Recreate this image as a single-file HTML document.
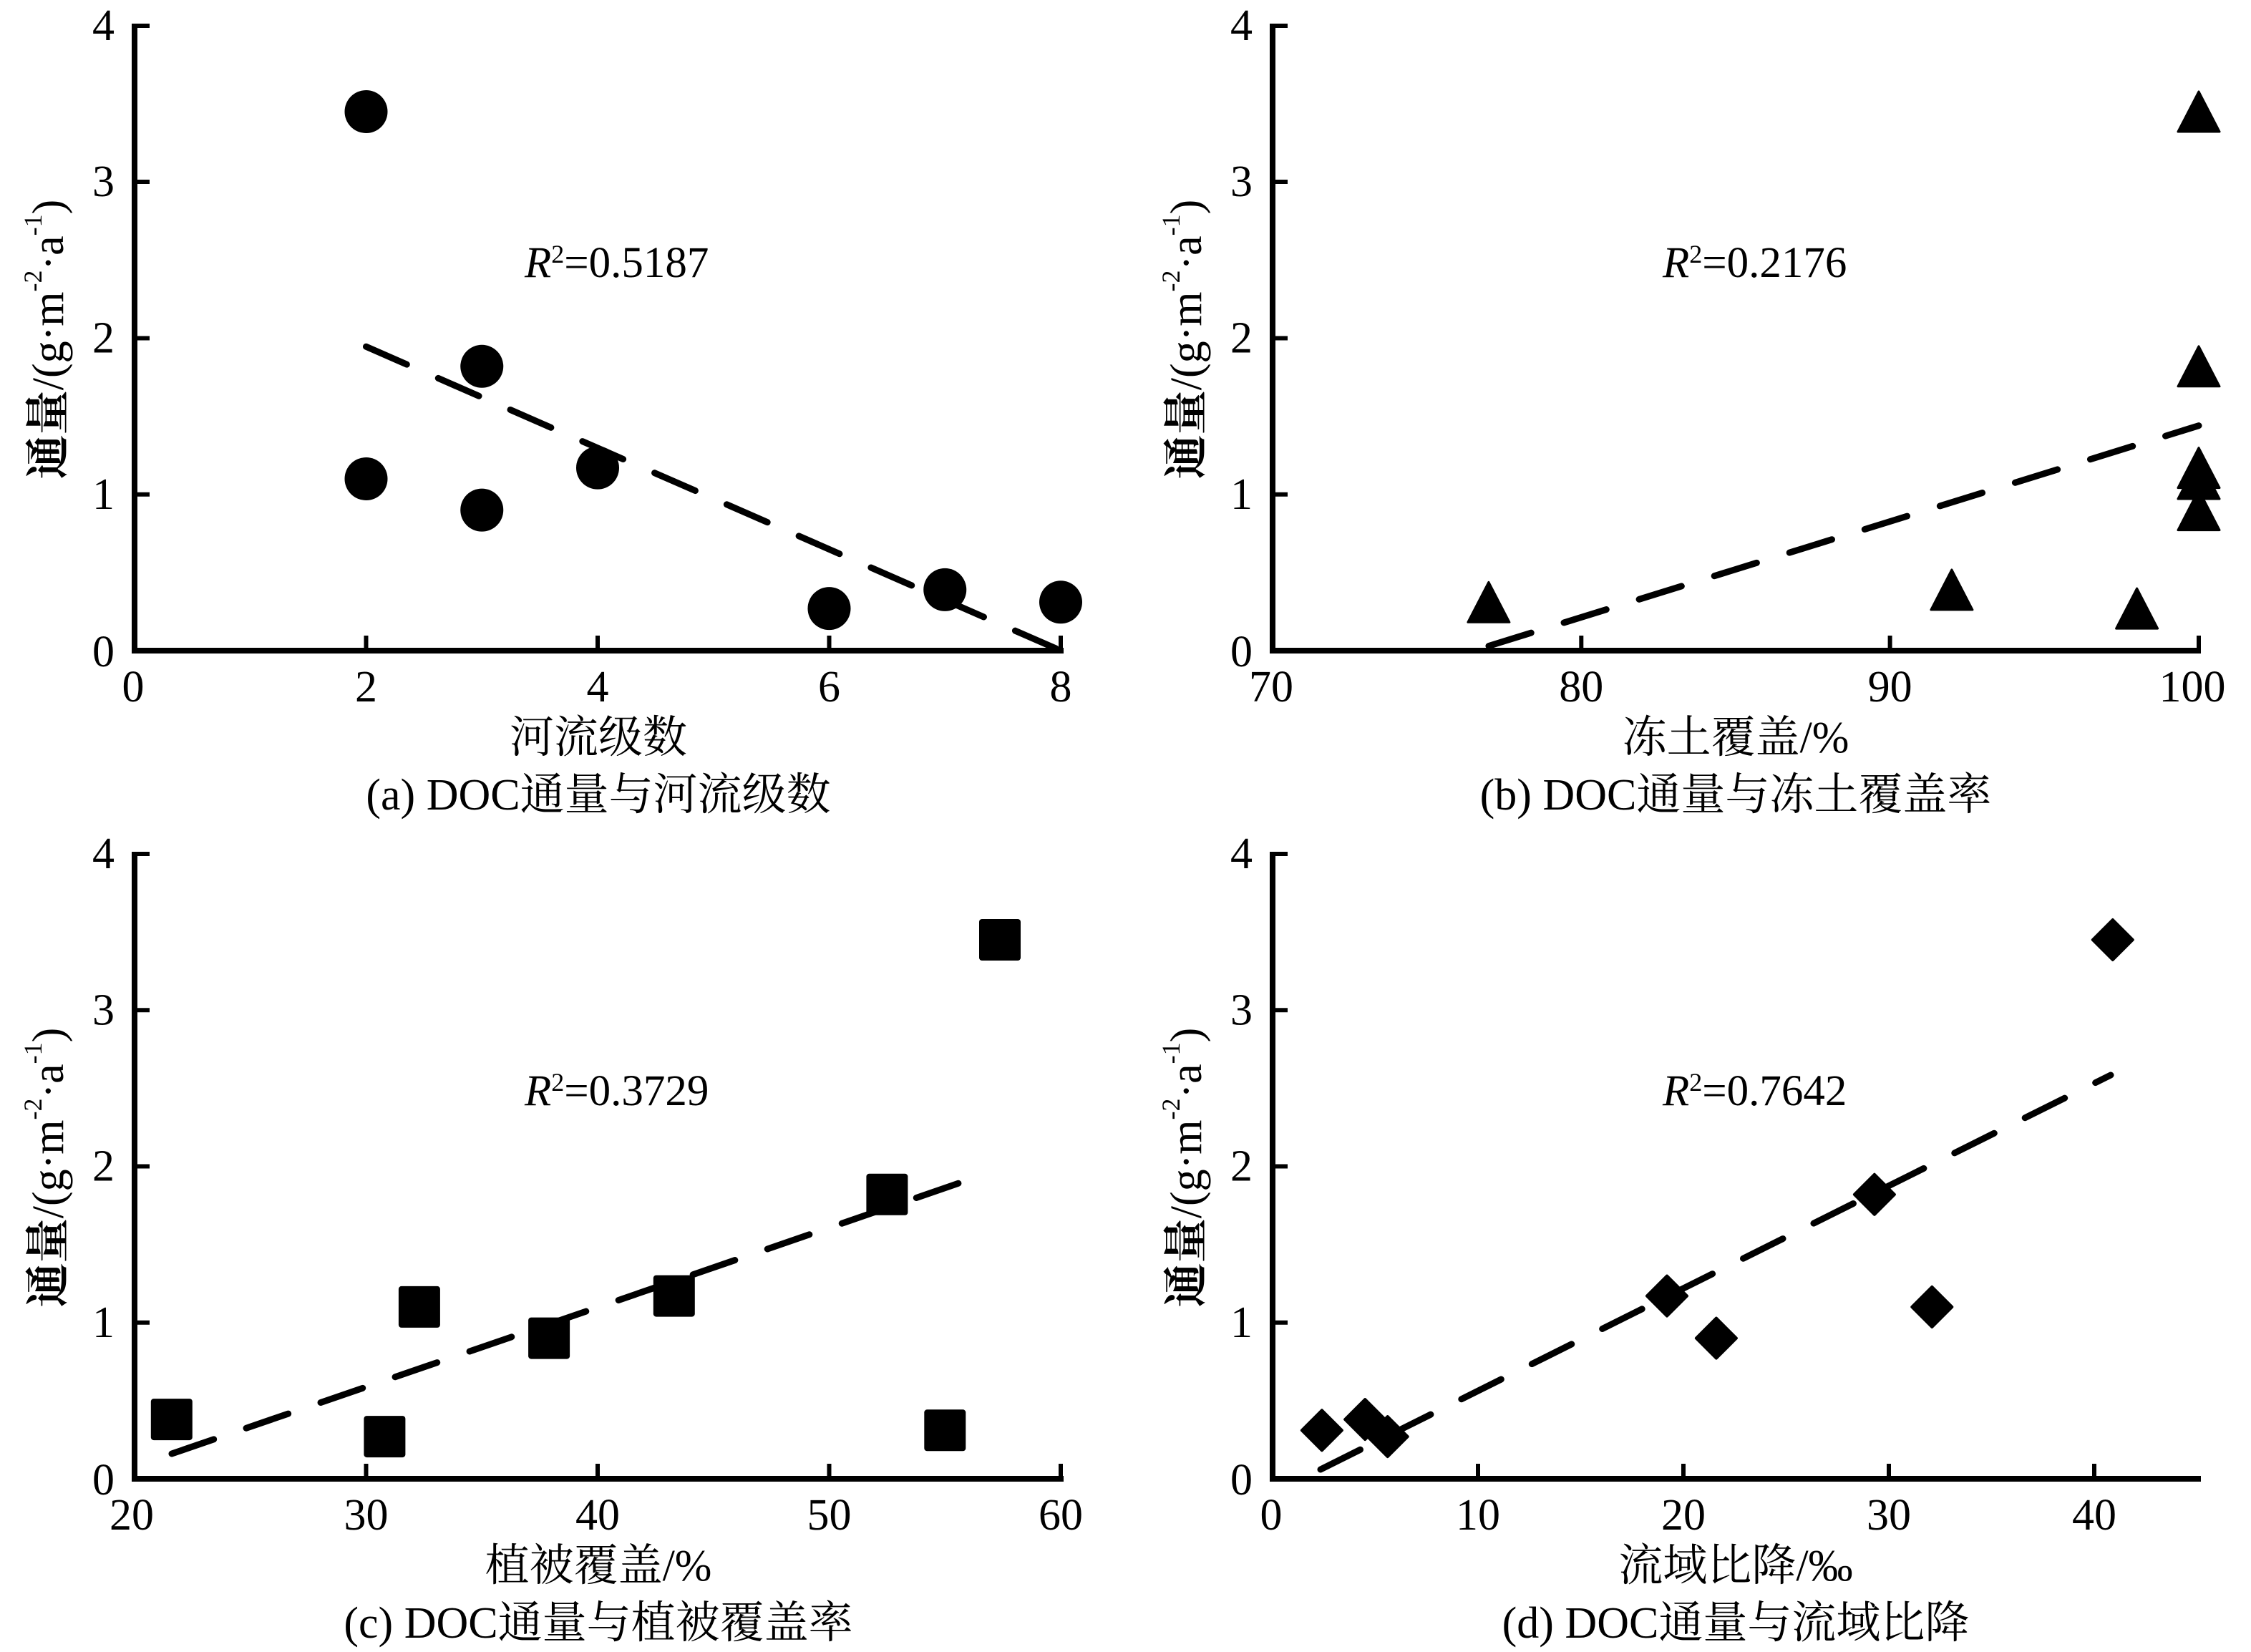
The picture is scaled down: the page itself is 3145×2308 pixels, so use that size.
<!DOCTYPE html>
<html>
<head>
<meta charset="utf-8">
<style>
  html,body{margin:0;padding:0;background:#fff;}
  svg{display:block;}
  .t{font-family:"Liberation Serif","Noto Serif CJK SC",serif;fill:#000;}
</style>
</head>
<body>
<svg width="3145" height="2308" viewBox="0 0 3145 2308" xmlns="http://www.w3.org/2000/svg">
<rect x="0" y="0" width="3145" height="2308" fill="#fff"/>

<!-- ================= PANEL A ================= -->
<g stroke="#000" fill="none" stroke-linecap="butt">
  <line x1="188" y1="33" x2="188" y2="913" stroke-width="8"/>
  <line x1="184" y1="909" x2="1486" y2="909" stroke-width="8"/>
  <g stroke-width="6">
    <line x1="188" y1="36" x2="209" y2="36"/>
    <line x1="188" y1="254" x2="209" y2="254"/>
    <line x1="188" y1="472.5" x2="209" y2="472.5"/>
    <line x1="188" y1="690.75" x2="209" y2="690.75"/>
    <line x1="511.5" y1="909" x2="511.5" y2="888"/>
    <line x1="835" y1="909" x2="835" y2="888"/>
    <line x1="1158.5" y1="909" x2="1158.5" y2="888"/>
    <line x1="1482" y1="909" x2="1482" y2="888"/>
  </g>
</g>
<g fill="#000">
  <circle cx="511.5" cy="156" r="30"/>
  <circle cx="511.5" cy="669" r="30"/>
  <circle cx="673.25" cy="511.8" r="30"/>
  <circle cx="673.25" cy="712.6" r="30"/>
  <circle cx="835" cy="653.6" r="30"/>
  <circle cx="1158.5" cy="850.1" r="30"/>
  <circle cx="1320.25" cy="823.9" r="30"/>
  <circle cx="1482" cy="841.3" r="30"/>
</g>
<line x1="511.5" y1="484.3" x2="1482" y2="909" stroke="#000" stroke-width="9" stroke-linecap="round" stroke-dasharray="62 48"/>
<g class="t" font-size="62" text-anchor="end">
  <text x="160" y="36" dominant-baseline="central">4</text>
  <text x="160" y="254" dominant-baseline="central">3</text>
  <text x="160" y="472.5" dominant-baseline="central">2</text>
  <text x="160" y="690.75" dominant-baseline="central">1</text>
  <text x="160" y="911" dominant-baseline="central">0</text>
</g>
<g class="t" font-size="62" text-anchor="middle">
  <text x="186" y="980">0</text>
  <text x="511.5" y="980">2</text>
  <text x="835" y="980">4</text>
  <text x="1158.5" y="980">6</text>
  <text x="1482" y="980">8</text>
</g>
<text class="t" x="733" y="387" font-size="61"><tspan font-style="italic">R</tspan><tspan font-size="36" dy="-20">2</tspan><tspan dy="20">=0.5187</tspan></text>
<text class="t" transform="translate(68,474) rotate(-90)" font-size="62" text-anchor="middle" dominant-baseline="central"><tspan font-weight="bold">通量</tspan>/(g·m<tspan font-size="36" dy="-22">-2</tspan><tspan dy="22">·a</tspan><tspan font-size="36" dy="-22">-1</tspan><tspan dy="22">)</tspan></text>
<text class="t" x="836" y="1031" font-size="62" text-anchor="middle" dominant-baseline="central">河流级数</text>
<text class="t" x="836" y="1111" font-size="62" text-anchor="middle" dominant-baseline="central">(a) DOC通量与河流级数</text>

<!-- ================= PANEL B ================= -->
<g stroke="#000" fill="none">
  <line x1="1778" y1="33" x2="1778" y2="913" stroke-width="8"/>
  <line x1="1774" y1="909" x2="3075" y2="909" stroke-width="8"/>
  <g stroke-width="6">
    <line x1="1778" y1="36" x2="1799" y2="36"/>
    <line x1="1778" y1="254" x2="1799" y2="254"/>
    <line x1="1778" y1="472.5" x2="1799" y2="472.5"/>
    <line x1="1778" y1="690.75" x2="1799" y2="690.75"/>
    <line x1="2209.3" y1="909" x2="2209.3" y2="888"/>
    <line x1="2640.6" y1="909" x2="2640.6" y2="888"/>
    <line x1="3072" y1="909" x2="3072" y2="888"/>
  </g>
</g>
<g fill="#000" stroke="#000" stroke-width="3" stroke-linejoin="round">
  <polygon points="3072,128 3101,184 3043,184"/>
  <polygon points="3072,483.8 3101,539.8 3043,539.8"/>
  <polygon points="3072,625.6 3101,681.6 3043,681.6"/>
  <polygon points="3072,641 3101,697 3043,697"/>
  <polygon points="3072,684.6 3101,740.6 3043,740.6"/>
  <polygon points="2079.9,813.3 2108.9,869.3 2050.9,869.3"/>
  <polygon points="2726.9,795.9 2755.9,851.9 2697.9,851.9"/>
  <polygon points="2985.6,822.1 3014.6,878.1 2956.6,878.1"/>
</g>
<line x1="2080" y1="902.5" x2="3072" y2="594.7" stroke="#000" stroke-width="9" stroke-linecap="round" stroke-dasharray="62 48"/>
<g class="t" font-size="62" text-anchor="end">
  <text x="1750" y="36" dominant-baseline="central">4</text>
  <text x="1750" y="254" dominant-baseline="central">3</text>
  <text x="1750" y="472.5" dominant-baseline="central">2</text>
  <text x="1750" y="690.75" dominant-baseline="central">1</text>
  <text x="1750" y="911" dominant-baseline="central">0</text>
</g>
<g class="t" font-size="62" text-anchor="middle">
  <text x="1776" y="980">70</text>
  <text x="2209.3" y="980">80</text>
  <text x="2640.6" y="980">90</text>
  <text x="3063" y="980">100</text>
</g>
<text class="t" x="2323" y="387" font-size="61"><tspan font-style="italic">R</tspan><tspan font-size="36" dy="-20">2</tspan><tspan dy="20">=0.2176</tspan></text>
<text class="t" transform="translate(1658,474) rotate(-90)" font-size="62" text-anchor="middle" dominant-baseline="central"><tspan font-weight="bold">通量</tspan>/(g·m<tspan font-size="36" dy="-22">-2</tspan><tspan dy="22">·a</tspan><tspan font-size="36" dy="-22">-1</tspan><tspan dy="22">)</tspan></text>
<text class="t" x="2425" y="1031" font-size="62" text-anchor="middle" dominant-baseline="central">冻土覆盖/%</text>
<text class="t" x="2425" y="1111" font-size="62" text-anchor="middle" dominant-baseline="central">(b) DOC通量与冻土覆盖率</text>

<!-- ================= PANEL C ================= -->
<g stroke="#000" fill="none">
  <line x1="188" y1="1190" x2="188" y2="2070" stroke-width="8"/>
  <line x1="184" y1="2066" x2="1486" y2="2066" stroke-width="8"/>
  <g stroke-width="6">
    <line x1="188" y1="1193" x2="209" y2="1193"/>
    <line x1="188" y1="1411.25" x2="209" y2="1411.25"/>
    <line x1="188" y1="1629.5" x2="209" y2="1629.5"/>
    <line x1="188" y1="1847.75" x2="209" y2="1847.75"/>
    <line x1="511.5" y1="2066" x2="511.5" y2="2045"/>
    <line x1="835" y1="2066" x2="835" y2="2045"/>
    <line x1="1158.5" y1="2066" x2="1158.5" y2="2045"/>
    <line x1="1482" y1="2066" x2="1482" y2="2045"/>
  </g>
</g>
<g fill="#000">
  <rect x="210.8" y="1954.1" width="58" height="58" rx="4"/>
  <rect x="508.4" y="1978.1" width="58" height="58" rx="4"/>
  <rect x="556.9" y="1796.9" width="58" height="58" rx="4"/>
  <rect x="738.1" y="1840.6" width="58" height="58" rx="4"/>
  <rect x="912.8" y="1781.6" width="58" height="58" rx="4"/>
  <rect x="1210.4" y="1639.8" width="58" height="58" rx="4"/>
  <rect x="1291.3" y="1969.3" width="58" height="58" rx="4"/>
  <rect x="1368" y="1284" width="58" height="58" rx="4"/>
</g>
<line x1="240" y1="2031" x2="1370" y2="1642.6" stroke="#000" stroke-width="9" stroke-linecap="round" stroke-dasharray="62 48"/>
<g class="t" font-size="62" text-anchor="end">
  <text x="160" y="1193" dominant-baseline="central">4</text>
  <text x="160" y="1411.25" dominant-baseline="central">3</text>
  <text x="160" y="1629.5" dominant-baseline="central">2</text>
  <text x="160" y="1847.75" dominant-baseline="central">1</text>
  <text x="160" y="2068" dominant-baseline="central">0</text>
</g>
<g class="t" font-size="62" text-anchor="middle">
  <text x="184" y="2137">20</text>
  <text x="511.5" y="2137">30</text>
  <text x="835" y="2137">40</text>
  <text x="1158.5" y="2137">50</text>
  <text x="1482" y="2137">60</text>
</g>
<text class="t" x="733" y="1544" font-size="61"><tspan font-style="italic">R</tspan><tspan font-size="36" dy="-20">2</tspan><tspan dy="20">=0.3729</tspan></text>
<text class="t" transform="translate(68,1631) rotate(-90)" font-size="62" text-anchor="middle" dominant-baseline="central"><tspan font-weight="bold">通量</tspan>/(g·m<tspan font-size="36" dy="-22">-2</tspan><tspan dy="22">·a</tspan><tspan font-size="36" dy="-22">-1</tspan><tspan dy="22">)</tspan></text>
<text class="t" x="836" y="2188" font-size="62" text-anchor="middle" dominant-baseline="central">植被覆盖/%</text>
<text class="t" x="836" y="2268" font-size="62" text-anchor="middle" dominant-baseline="central">(c) DOC通量与植被覆盖率</text>

<!-- ================= PANEL D ================= -->
<g stroke="#000" fill="none">
  <line x1="1778" y1="1190" x2="1778" y2="2070" stroke-width="8"/>
  <line x1="1774" y1="2066" x2="3075" y2="2066" stroke-width="8"/>
  <g stroke-width="6">
    <line x1="1778" y1="1193" x2="1799" y2="1193"/>
    <line x1="1778" y1="1411.25" x2="1799" y2="1411.25"/>
    <line x1="1778" y1="1629.5" x2="1799" y2="1629.5"/>
    <line x1="1778" y1="1847.75" x2="1799" y2="1847.75"/>
    <line x1="2065" y1="2066" x2="2065" y2="2045"/>
    <line x1="2352" y1="2066" x2="2352" y2="2045"/>
    <line x1="2639" y1="2066" x2="2639" y2="2045"/>
    <line x1="2926" y1="2066" x2="2926" y2="2045"/>
  </g>
</g>
<g fill="#000" stroke="#000" stroke-width="4" stroke-linejoin="round">
  <polygon points="1846.9,1970.3 1874.9,1998.3 1846.9,2026.3 1818.9,1998.3"/>
  <polygon points="1907.2,1955.1 1935.2,1983.1 1907.2,2011.1 1879.2,1983.1"/>
  <polygon points="1938.7,1979.1 1966.7,2007.1 1938.7,2035.1 1910.7,2007.1"/>
  <polygon points="2329,1782.6 2357,1810.6 2329,1838.6 2301,1810.6"/>
  <polygon points="2397.9,1841.6 2425.9,1869.6 2397.9,1897.6 2369.9,1869.6"/>
  <polygon points="2618.9,1640.8 2646.9,1668.8 2618.9,1696.8 2590.9,1668.8"/>
  <polygon points="2699.3,1797.9 2727.3,1825.9 2699.3,1853.9 2671.3,1825.9"/>
  <polygon points="2951.8,1285 2979.8,1313 2951.8,1341 2923.8,1313"/>
</g>
<line x1="1845" y1="2053" x2="2949" y2="1502" stroke="#000" stroke-width="9" stroke-linecap="round" stroke-dasharray="62 48"/>
<g class="t" font-size="62" text-anchor="end">
  <text x="1750" y="1193" dominant-baseline="central">4</text>
  <text x="1750" y="1411.25" dominant-baseline="central">3</text>
  <text x="1750" y="1629.5" dominant-baseline="central">2</text>
  <text x="1750" y="1847.75" dominant-baseline="central">1</text>
  <text x="1750" y="2068" dominant-baseline="central">0</text>
</g>
<g class="t" font-size="62" text-anchor="middle">
  <text x="1776" y="2137">0</text>
  <text x="2065" y="2137">10</text>
  <text x="2352" y="2137">20</text>
  <text x="2639" y="2137">30</text>
  <text x="2926" y="2137">40</text>
</g>
<text class="t" x="2323" y="1544" font-size="61"><tspan font-style="italic">R</tspan><tspan font-size="36" dy="-20">2</tspan><tspan dy="20">=0.7642</tspan></text>
<text class="t" transform="translate(1658,1631) rotate(-90)" font-size="62" text-anchor="middle" dominant-baseline="central"><tspan font-weight="bold">通量</tspan>/(g·m<tspan font-size="36" dy="-22">-2</tspan><tspan dy="22">·a</tspan><tspan font-size="36" dy="-22">-1</tspan><tspan dy="22">)</tspan></text>
<text class="t" x="2425" y="2188" font-size="62" text-anchor="middle" dominant-baseline="central">流域比降/‰</text>
<text class="t" x="2425" y="2268" font-size="62" text-anchor="middle" dominant-baseline="central">(d) DOC通量与流域比降</text>

</svg>
</body>
</html>
